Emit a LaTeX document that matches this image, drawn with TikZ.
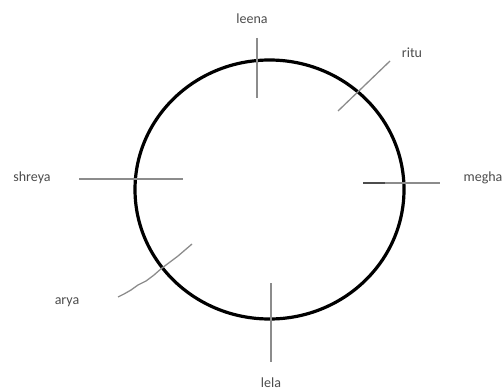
\documentclass[tikz,border=0pt]{standalone}
\usepackage{fontspec}
\setmainfont{Carlito}
\begin{document}
\begin{tikzpicture}[x=1pt,y=-1pt,
  lbl/.style={font=\fontsize{14}{16}\selectfont, text=black!70, inner sep=0pt},
  tick/.style={draw=black!45, line width=1.3pt},
  ring/.style={draw=black, line width=3.2pt}]
\useasboundingbox (0,0) rectangle (502,390);
\draw[ring] (269.5,189.5) ellipse [x radius=134.5, y radius=129.5];
% labels
\node[lbl] (leena) at (252,19) {leena};
\node[lbl] (ritu) at (412,53) {ritu};
\node[lbl] (megha) at (483,178) {megha};
\node[lbl] (shreya) at (32,178) {shreya};
\node[lbl] (arya) at (67,302) {arya};
\node[lbl] (lela) at (271,383) {lela};
% marks
\coordinate (leenaA) at (257,38); \coordinate (leenaB) at (257,98);
\coordinate (rituA) at (390,61); \coordinate (rituB) at (338,111);
\coordinate (meghaA) at (363,183); \coordinate (meghaB) at (440,183);
\coordinate (meghaC) at (385,183);
\coordinate (shreyaA) at (79,179); \coordinate (shreyaB) at (183,179);
\coordinate (aryaA) at (118,297); \coordinate (aryaB) at (192,244);
\coordinate (lelaA) at (271,283); \coordinate (lelaB) at (271,362);
\draw[tick] (leenaA) -- (leenaB);
\draw[tick] (rituA) -- (rituB);
\draw[tick] (meghaA) -- (meghaB);
\draw[draw=black!70, line width=1.6pt] (meghaA) -- (meghaC);
\draw[tick] (shreyaA) -- (shreyaB);
\draw[tick, line join=round] (aryaA) -- (124,294) -- (131,290) -- (138,285) -- (146,281) -- (154,275) -- (162,268) -- (170,262) -- (178,256) -- (185,250) -- (aryaB);
\draw[tick] (lelaA) -- (lelaB);
\end{tikzpicture}
\end{document}
